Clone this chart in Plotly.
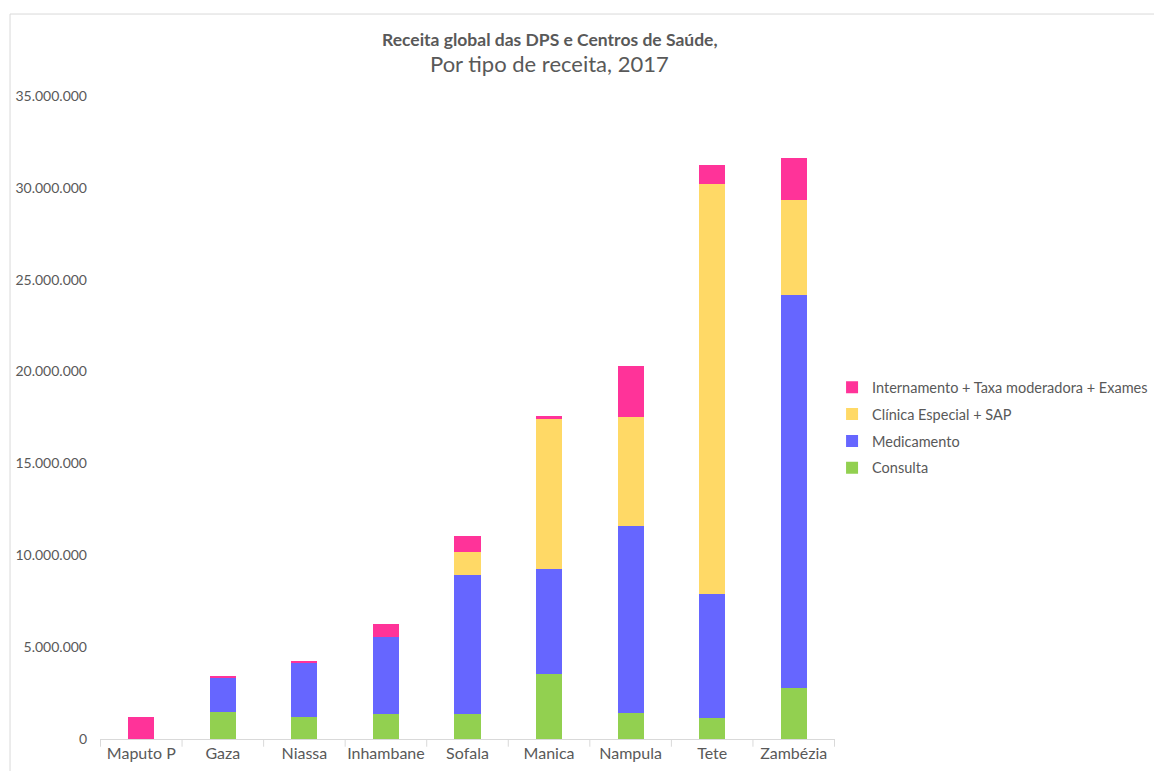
import plotly.graph_objects as go

provinces = ["Maputo P", "Gaza", "Niassa", "Inhambane", "Sofala",
             "Manica", "Nampula", "Tete", "Zambézia"]

consulta = [0, 1470000, 1200000, 1360000, 1360000, 3540000, 1420000, 1140000, 2780000]
medicamento = [0, 1900000, 2940000, 4190000, 7570000, 5710000, 10180000, 6750000, 21390000]
clinica_sap = [0, 0, 0, 0, 1250000, 8170000, 5930000, 22320000, 5170000]
internamento = [1200000, 60000, 100000, 710000, 870000, 160000, 2770000, 1040000, 2290000]

# (name, values, colour, legend position)
series = [
    ("Consulta", consulta, "#92D050", 4),
    ("Medicamento", medicamento, "#6666FF", 3),
    ("Clínica Especial + SAP", clinica_sap, "#FFD966", 2),
    ("Internamento + Taxa moderadora + Exames", internamento, "#FF3399", 1),
]

fig = go.Figure()
for name, vals, color, rank in series:
    fig.add_trace(go.Bar(
        x=provinces, y=vals, name=name, legendgroup=name, legendrank=rank,
        marker=dict(color=color, line=dict(width=0)),
        width=0.32,
    ))

fig.update_layout(
    barmode="stack",
    width=1162, height=771,
    paper_bgcolor="white", plot_bgcolor="white",
    margin=dict(l=92, r=335, t=88, b=40, autoexpand=False),
    font=dict(family="Lato, Open Sans, sans-serif", color="#595959", size=14),
    separators=",.",
    legend=dict(
        traceorder="grouped",
        x=0.996, xanchor="left", y=0.484, yanchor="middle",
        font=dict(size=14.5, color="#595959"),
        itemwidth=30, tracegroupgap=5,
    ),
    showlegend=True,
)

# title, two lines
fig.add_annotation(text="<b>Receita global das DPS e Centros de Saúde,</b>",
                   xref="paper", yref="paper", x=0.6122, y=1.0871,
                   xanchor="center", yanchor="middle", showarrow=False,
                   font=dict(size=17.5, color="#595959"))
fig.add_annotation(text="Por tipo de receita, 2017",
                   xref="paper", yref="paper", x=0.6122, y=1.0498,
                   xanchor="center", yanchor="middle", showarrow=False,
                   font=dict(size=22, color="#595959"))

fig.update_xaxes(
    showline=True, linecolor="#D9D9D9", linewidth=1,
    ticks="", showgrid=False,
    tickfont=dict(size=16, color="#595959"),
)
fig.update_yaxes(
    range=[0, 35000000], dtick=5000000, tickformat=",d",
    showgrid=False, zeroline=False, showline=False,
    ticklabelstandoff=12,
    tickfont=dict(size=14, color="#595959"),
)

# outer chart frame
fig.add_shape(type="rect", xref="paper", yref="paper",
              x0=-0.1224, x1=1.4435, y0=-0.2, y1=1.1275,
              line=dict(color="#D9D9D9", width=1), layer="below")

# tick marks between categories on the baseline
for i in range(len(provinces) + 1):
    fig.add_shape(type="line", xref="x", yref="paper",
                  x0=i - 0.5, x1=i - 0.5, y0=0, y1=-0.012,
                  line=dict(color="#D9D9D9", width=1))

fig.write_html("out.html")
